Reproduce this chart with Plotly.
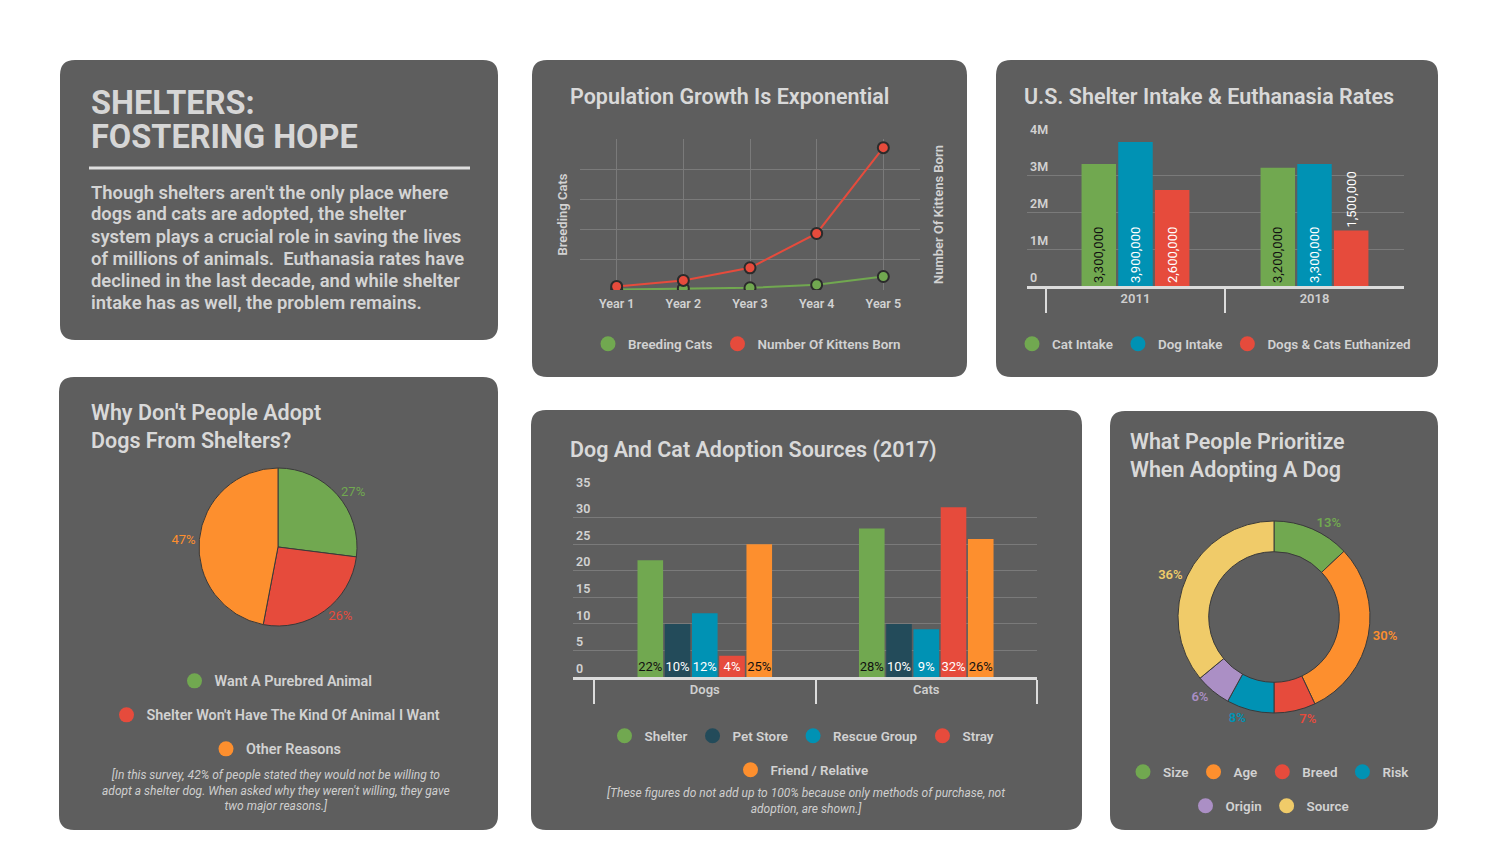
import plotly.graph_objects as go

# page size in px; the page body keeps its default 8px margin, so positions are
# given in screen px and shifted by that margin when turned into paper coordinates
W, H = 1500, 867
OFF = 8


def px(x):
    return (x - OFF) / W


def py(y):
    return 1 - (y - OFF) / H


# ---- data ----
years = ["Year 1", "Year 2", "Year 3", "Year 4", "Year 5"]
breeding_cats = [5, 45, 65, 165, 440]
kittens_born = [110, 310, 730, 1870, 4720]

intake_years = ["2011", "2018"]
cat_intake = [3300000, 3200000]
dog_intake = [3900000, 3300000]
euthanized = [2600000, 1500000]

reasons = ["Want A Purebred Animal",
           "Shelter Won't Have The Kind Of Animal I Want",
           "Other Reasons"]
reason_share = [27, 26, 47]

species = ["Dogs", "Cats"]
shelter_pct = [22, 28]
pet_store_pct = [10, 10]
rescue_pct = [12, 9]
stray_pct = [4, 32]
friend_pct = [25, 26]

priorities = ["Size", "Age", "Breed", "Risk", "Origin", "Source"]
priority_share = [13, 30, 7, 8, 6, 36]

intro_lines = ["Though shelters aren't the only place where",
               "dogs and cats are adopted, the shelter",
               "system plays a crucial role in saving the lives",
               "of millions of animals.  Euthanasia rates have",
               "declined in the last decade, and while shelter",
               "intake has as well, the problem remains."]

# ---- style ----
FONT = "Roboto"
WT = 600
CARD = "#5e5e5e"
GRID = "#7a7a7a"
TXT = "#d2d2d2"
TITLE = "#d9d9d9"
GREEN = "#71a850"
RED = "#e64b3c"
ORANGE = "#fd8f2e"
BLUE = "#0092b4"
NAVY = "#234b5a"
PURPLE = "#ab8fc5"
YELLOW = "#f0cb69"

fig = go.Figure()

# 1. Population growth (linhas, dois eixos)
fig.add_trace(go.Scatter(
    x=years, y=breeding_cats, name="Breeding Cats", mode="lines+markers",
    line=dict(color=GREEN, width=2),
    marker=dict(size=11, color=GREEN, line=dict(color="#2b2b2b", width=2)),
    xaxis="x", yaxis="y", showlegend=False))
fig.add_trace(go.Scatter(
    x=years, y=kittens_born, name="Number Of Kittens Born", mode="lines+markers",
    line=dict(color=RED, width=2),
    marker=dict(size=11, color=RED, line=dict(color="#2b2b2b", width=2)),
    xaxis="x", yaxis="y2", showlegend=False))

# 2. Shelter intake (barras)
for name, vals, col, tcol, tpos in [
        ("Cat Intake", cat_intake, GREEN, "#111111", "inside"),
        ("Dog Intake", dog_intake, BLUE, "#ffffff", "inside"),
        ("Dogs & Cats Euthanized", euthanized, RED, "#ffffff", ["inside", "outside"])]:
    fig.add_trace(go.Bar(
        x=intake_years, y=vals, name=name, marker=dict(color=col, line=dict(width=0)),
        texttemplate="%{y:,.0f}", textposition=tpos, insidetextanchor="start",
        textangle=-90, textfont=dict(family=FONT, size=13, color=tcol),
        cliponaxis=False, xaxis="x2", yaxis="y3", showlegend=False))

# 3. Adoption sources (barras)
for name, vals, col, tcol in [
        ("Shelter", shelter_pct, GREEN, "#111111"),
        ("Pet Store", pet_store_pct, NAVY, "#ffffff"),
        ("Rescue Group", rescue_pct, BLUE, "#ffffff"),
        ("Stray", stray_pct, RED, "#ffffff"),
        ("Friend / Relative", friend_pct, ORANGE, "#111111")]:
    fig.add_trace(go.Bar(
        x=species, y=vals, name=name, marker=dict(color=col, line=dict(width=0)),
        texttemplate="%{y}%", textposition="inside", insidetextanchor="start",
        textangle=0, textfont=dict(family=FONT, size=13, color=tcol),
        xaxis="x3", yaxis="y4", showlegend=False))

# 4. Pie
fig.add_trace(go.Pie(
    labels=reasons, values=reason_share, sort=False, direction="clockwise",
    marker=dict(colors=[GREEN, RED, ORANGE], line=dict(color="#3a3a3a", width=1)),
    textinfo="percent", textposition="outside",
    textfont=dict(family=FONT, size=12.5, color=[GREEN, RED, ORANGE]),
    domain=dict(x=[px(199), px(357)], y=[py(626), py(468)]),
    showlegend=False))

# 5. Donut
fig.add_trace(go.Pie(
    labels=priorities, values=priority_share, sort=False, direction="clockwise",
    hole=0.68,
    marker=dict(colors=[GREEN, ORANGE, RED, BLUE, PURPLE, YELLOW],
                line=dict(color="#3a3a3a", width=1)),
    textinfo="percent", textposition="outside",
    textfont=dict(family=FONT, size=13.5, weight=WT,
                  color=[GREEN, ORANGE, RED, BLUE, PURPLE, YELLOW]),
    domain=dict(x=[px(1178), px(1370)], y=[py(713), py(521)]),
    showlegend=False))

# legendas com bolinhas (traços vazios)
legend_items = [
    ("legend", ["Breeding Cats", "Number Of Kittens Born"], [GREEN, RED]),
    ("legend2", ["Cat Intake", "Dog Intake", "Dogs & Cats Euthanized"], [GREEN, BLUE, RED]),
    ("legend3", reasons[:1], [GREEN]),
    ("legend4", reasons[1:2], [RED]),
    ("legend5", reasons[2:], [ORANGE]),
    ("legend6", ["Shelter", "Pet Store", "Rescue Group", "Stray"], [GREEN, NAVY, BLUE, RED]),
    ("legend7", ["Friend / Relative"], [ORANGE]),
    ("legend8", priorities[:4], [GREEN, ORANGE, RED, BLUE]),
    ("legend9", priorities[4:], [PURPLE, YELLOW]),
]
for leg_id, names, cols in legend_items:
    for n, c in zip(names, cols):
        fig.add_trace(go.Scatter(
            x=[None], y=[None], mode="markers", name=n,
            marker=dict(size=15, color=c), legend=leg_id,
            xaxis="x", yaxis="y", hoverinfo="skip"))


def leg(xc, yc, size=13.4):
    return dict(x=px(xc), y=py(yc), xanchor="center", yanchor="middle",
                orientation="h", bgcolor="rgba(0,0,0,0)", itemsizing="trace",
                font=dict(family=FONT, size=size, color=TXT, weight=WT))


# cartões arredondados
def card(x0, y0, x1, y1, r=15):
    X, Y = px, py
    path = (f"M {X(x0 + r)},{Y(y0)} L {X(x1 - r)},{Y(y0)} Q {X(x1)},{Y(y0)} {X(x1)},{Y(y0 + r)} "
            f"L {X(x1)},{Y(y1 - r)} Q {X(x1)},{Y(y1)} {X(x1 - r)},{Y(y1)} "
            f"L {X(x0 + r)},{Y(y1)} Q {X(x0)},{Y(y1)} {X(x0)},{Y(y1 - r)} "
            f"L {X(x0)},{Y(y0 + r)} Q {X(x0)},{Y(y0)} {X(x0 + r)},{Y(y0)} Z")
    return dict(type="path", path=path, xref="paper", yref="paper",
                fillcolor=CARD, line=dict(width=0), layer="below")


shapes = [card(60, 60, 498, 340), card(532, 60, 967, 377), card(996, 60, 1438, 377),
          card(59, 377, 498, 830), card(531, 410, 1082, 830), card(1110, 411, 1438, 830),
          dict(type="line", xref="paper", yref="paper", x0=px(89), x1=px(470),
               y0=py(168), y1=py(168), line=dict(color="#dedede", width=3))]


def note(text, x, y, size=21.5, weight=WT, color=TITLE, xanchor="left", italic=False, align="left"):
    return dict(text=text, x=px(x), y=py(y), xref="paper", yref="paper",
                xanchor=xanchor, yanchor="middle", showarrow=False, align=align,
                font=dict(family=FONT, size=size, weight=weight, color=color,
                          style="italic" if italic else "normal"))


annotations = [
    note("SHELTERS:", 89, 103, size=32.5, weight=700, color="#d6d6d6"),
    note("FOSTERING HOPE", 89, 137, size=32.5, weight=700, color="#d6d6d6"),
    note("Population Growth Is Exponential", 568, 96),
    note("U.S. Shelter Intake & Euthanasia Rates", 1022, 96),
    note("Why Don't People Adopt<br>Dogs From Shelters?", 89, 427),
    note("Dog And Cat Adoption Sources (2017)", 568, 450),
    note("What People Prioritize<br>When Adopting A Dog", 1128, 455),
    note("[In this survey, 42% of people stated they would not be willing to<br>"
         "adopt a shelter dog. When asked why they weren't willing, they gave<br>"
         "two major reasons.]", 276, 790, size=12, weight=400, color="#cfcfcf",
         xanchor="center", italic=True, align="center"),
    note("[These figures do not add up to 100% because only methods of purchase, not<br>"
         "adoption, are shown.]", 806, 801, size=12, weight=400, color="#cfcfcf",
         xanchor="center", italic=True, align="center"),
]
for i, line in enumerate(intro_lines):
    annotations.append(note(line, 89, 192 + 22 * i, size=18.4, color="#d4d4d4"))

tickfont = dict(family=FONT, size=12.5, color=TXT, weight=WT)
catfont = dict(family=FONT, size=13, color="#cfcfcf", weight=WT)
axtitle = dict(family=FONT, size=13, color=TXT, weight=WT)

fig.update_layout(
    width=W, height=H,
    margin=dict(l=0, r=0, t=0, b=0, autoexpand=False),
    paper_bgcolor="white", plot_bgcolor="rgba(0,0,0,0)",
    font=dict(family=FONT, color=TXT),
    showlegend=True,
    bargap=0.385, bargroupgap=0.06,
    uniformtext=dict(minsize=13, mode="show"),
    shapes=shapes, annotations=annotations,
    # gráfico de linhas
    xaxis=dict(domain=[px(580), px(920)], type="category", range=[-0.55, 4.55],
               showgrid=True, gridcolor=GRID, gridwidth=1, zeroline=False,
               showline=False, ticks="", tickfont=dict(family=FONT, size=12.5, color=TXT, weight=WT),
               ticklabelstandoff=4, anchor="y", fixedrange=True, automargin=False),
    yaxis=dict(domain=[py(290), py(139)], range=[-8, 5008], tickvals=[0, 1000, 2000, 3000, 4000, 5000],
               showgrid=True, gridcolor=GRID, zeroline=False, showticklabels=False,
               title=dict(text="Breeding Cats", font=axtitle, standoff=8),
               anchor="x", fixedrange=True, automargin=False),
    yaxis2=dict(domain=[py(290), py(139)], range=[-8, 5008], overlaying="y", side="right",
                showgrid=False, zeroline=False, showticklabels=False,
                title=dict(text="Number Of Kittens Born", font=axtitle, standoff=13),
                anchor="x", fixedrange=True, automargin=False),
    # intake
    xaxis2=dict(domain=[px(1027), px(1404)], type="category", range=[-0.606, 1.5],
                showgrid=False, showline=True, linecolor="#dcdcdc", linewidth=2.5,
                ticks="outside", tickson="boundaries", ticklen=24, tickwidth=2,
                tickcolor="#dcdcdc", tickfont=catfont, ticklabelstandoff=-1,
                anchor="y3", fixedrange=True, automargin=False),
    yaxis3=dict(domain=[py(286), py(138)], range=[0, 4006000],
                tickvals=[0, 1000000, 2000000, 3000000, 4000000],
                tickformat="~s", showgrid=True, gridcolor=GRID, zeroline=False,
                ticklabelposition="inside top", ticklabeloverflow="allow", tickfont=tickfont,
                anchor="x2", fixedrange=True, automargin=False),
    # adoption sources
    xaxis3=dict(domain=[px(573), px(1037)], type="category", range=[-0.595, 1.5],
                showgrid=False, showline=True, linecolor="#dcdcdc", linewidth=2.5,
                ticks="outside", tickson="boundaries", ticklen=24, tickwidth=2,
                tickcolor="#dcdcdc", tickfont=catfont, ticklabelstandoff=-1,
                anchor="y4", fixedrange=True, automargin=False),
    yaxis4=dict(domain=[py(677), py(491)], range=[0, 35.05], tickvals=[0, 5, 10, 15, 20, 25, 30, 35],
                showgrid=True, gridcolor=GRID, zeroline=False,
                ticklabelposition="inside top", ticklabeloverflow="allow", tickfont=tickfont,
                anchor="x3", fixedrange=True, automargin=False),
    legend=leg(747, 344),
    legend2=leg(1214, 344),
    legend3=leg(276, 681, 14.4),
    legend4=leg(276, 715, 14.4),
    legend5=leg(276, 749, 14.4),
    legend6=leg(802, 736),
    legend7=leg(802, 770),
    legend8=leg(1269, 772),
    legend9=leg(1270, 806),
)

fig.write_html("out.html", config={"displayModeBar": False})
